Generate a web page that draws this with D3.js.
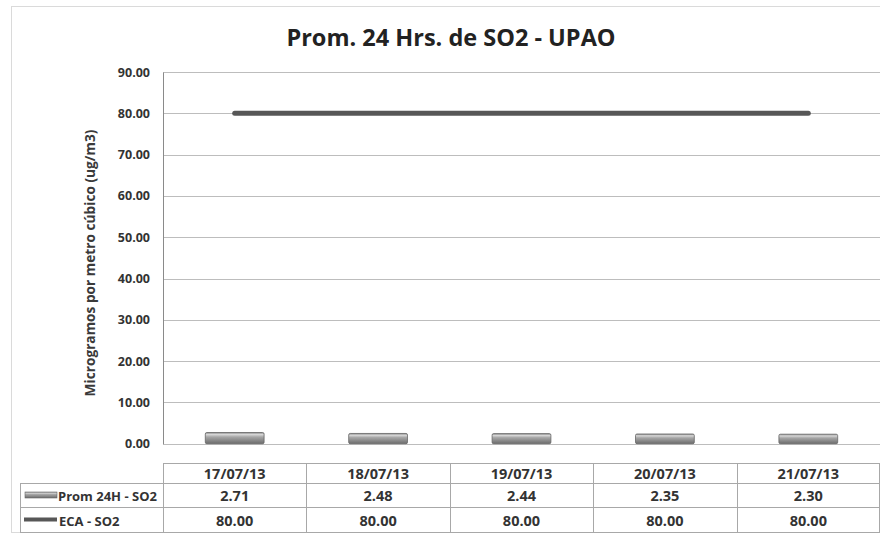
<!DOCTYPE html>
<html><head><meta charset="utf-8">
<script src="https://cdn.jsdelivr.net/npm/d3@7"></script>
<style>body{margin:0;background:#fff}svg{display:block}text{font-family:"Open Sans",sans-serif}</style>
</head><body><svg id="c" width="880" height="541"></svg>
<script>
const title = "Prom. 24 Hrs. de SO2 - UPAO";
const yTitle = "Microgramos por metro cúbico (ug/m3)";
const categories = ["17/07/13","18/07/13","19/07/13","20/07/13","21/07/13"];
const promValues = [2.71, 2.48, 2.44, 2.35, 2.30];
const ecaValues = [80.00, 80.00, 80.00, 80.00, 80.00];
const seriesNames = ["Prom 24H - SO2", "ECA - SO2"];
const yTicks = [0,10,20,30,40,50,60,70,80,90];

const svg = d3.select("#c");
const L = 163, R = 880, T = 72, B = 443.7;
const x = d3.scaleBand().domain(categories).range([L, R]).paddingInner(0).paddingOuter(0);
const y = d3.scaleLinear().domain([0, 90]).range([B, T]);

const defs = svg.append("defs");
const g1 = defs.append("linearGradient").attr("id","barg").attr("x1",0).attr("x2",0).attr("y1",0).attr("y2",1);
g1.append("stop").attr("offset","0%").attr("stop-color","#8a8a8a");
g1.append("stop").attr("offset","18%").attr("stop-color","#d6d6d6");
g1.append("stop").attr("offset","40%").attr("stop-color","#a6a6a6");
g1.append("stop").attr("offset","100%").attr("stop-color","#6c6c6c");

// outer border
svg.append("rect").attr("x",11.5).attr("y",6.5).attr("width",880).attr("height",526)
  .attr("fill","none").attr("stroke","#b5b5b5").attr("stroke-dasharray","1,1");

svg.append("text").attr("x",451).attr("y",46).attr("text-anchor","middle")
  .attr("font-size",23.5).attr("font-weight","bold").attr("fill","#222").text(title);

// gridlines
svg.append("g").selectAll("line").data(yTicks).join("line")
  .attr("x1",L).attr("x2",R).attr("y1",d=>Math.round(y(d))+0.5).attr("y2",d=>Math.round(y(d))+0.5)
  .attr("stroke","#bdbdbd").attr("stroke-width",1);

// y axis
const ya = svg.append("g").attr("transform",`translate(${L},0)`)
  .call(d3.axisLeft(y).tickValues(yTicks).tickFormat(d3.format(".2f")).tickSize(0).tickPadding(13));
ya.select(".domain").attr("stroke","#8a8a8a");
ya.selectAll("text").attr("font-size",12.5).attr("font-weight","bold").attr("fill","#333")
  .attr("font-family","'Open Sans',sans-serif");

svg.append("text").attr("transform",`translate(95,${263}) rotate(-90)`)
  .attr("text-anchor","middle").attr("font-size",13.7).attr("font-weight","bold").attr("fill","#3a3a3a").text(yTitle);

// bars
const bw = x.bandwidth()*0.41;
svg.append("g").selectAll("rect").data(promValues).join("rect")
  .attr("x",(d,i)=>x(categories[i])+x.bandwidth()/2-bw/2)
  .attr("y",d=>y(d)).attr("width",bw).attr("height",d=>B-y(d)).attr("rx",1.5)
  .attr("fill","url(#barg)").attr("stroke","#666").attr("stroke-width",0.8);

// line
const line = d3.line().x((d,i)=>x(categories[i])+x.bandwidth()/2).y(d=>y(d));
svg.append("path").datum(ecaValues).attr("d",line).attr("fill","none")
  .attr("stroke","#575757").attr("stroke-width",5).attr("stroke-linecap","round");

// data table
const rows = [463.5, 483.5, 507.5, 532.5];
const tg = svg.append("g").attr("stroke","#a8a8a8").attr("stroke-width",1);
tg.append("line").attr("x1",L).attr("x2",R).attr("y1",rows[0]).attr("y2",rows[0]);
[1,2,3].forEach(i=>tg.append("line").attr("x1",20).attr("x2",R).attr("y1",rows[i]).attr("y2",rows[i]));
tg.append("line").attr("x1",20.5).attr("x2",20.5).attr("y1",rows[1]).attr("y2",rows[3]);
categories.forEach(c=>{ const xx=Math.round(x(c))+0.5; tg.append("line").attr("x1",xx).attr("x2",xx).attr("y1",rows[0]).attr("y2",rows[3]);});
tg.append("line").attr("x1",R-0.5).attr("x2",R-0.5).attr("y1",rows[0]).attr("y2",rows[3]);

const tt = svg.append("g").attr("font-size",14.5).attr("font-weight","bold").attr("fill","#333").attr("text-anchor","middle");
categories.forEach((c,i)=>{
  const cx = x(c)+x.bandwidth()/2;
  tt.append("text").attr("x",cx).attr("y",479).text(c);
  tt.append("text").attr("x",cx).attr("y",501).text(promValues[i].toFixed(2));
  tt.append("text").attr("x",cx).attr("y",525.5).text(ecaValues[i].toFixed(2));
});

// legend keys
svg.append("rect").attr("x",25).attr("y",492).attr("width",32).attr("height",6)
  .attr("fill","url(#barg)").attr("stroke","#666").attr("stroke-width",0.6);
svg.append("line").attr("x1",24).attr("x2",57).attr("y1",519.5).attr("y2",519.5)
  .attr("stroke","#575757").attr("stroke-width",4);
svg.append("text").attr("x",58).attr("y",501).attr("font-size",13).attr("font-weight","bold").attr("fill","#333").text(seriesNames[0]);
svg.append("text").attr("x",59).attr("y",525.5).attr("font-size",13).attr("font-weight","bold").attr("fill","#333").text(seriesNames[1]);
</script></body></html>
